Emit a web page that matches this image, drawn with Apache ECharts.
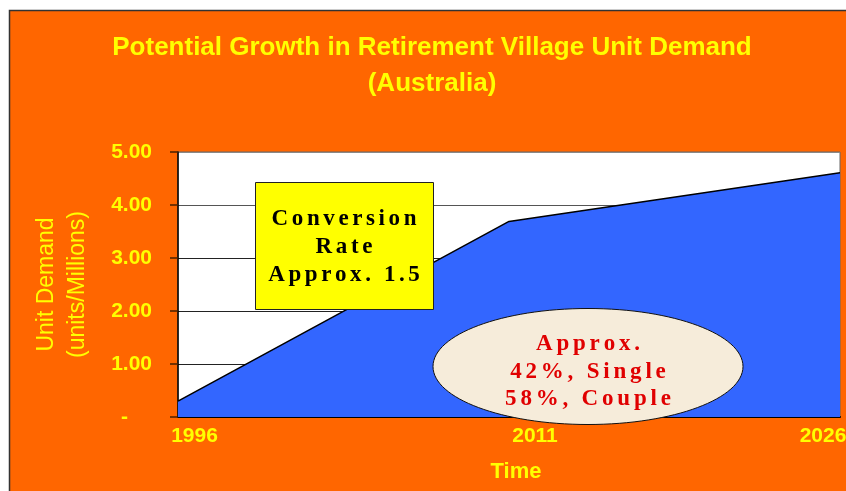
<!DOCTYPE html>
<html>
<head>
<meta charset="utf-8">
<script src="https://cdn.jsdelivr.net/npm/echarts@6/dist/echarts.min.js"></script>
<style>
html,body{margin:0;padding:0;background:#fff;}
#chart{width:846px;height:491px;}
</style>
</head>
<body>
<div id="chart"></div>
<script>
// ---- data ----
var years = [1996, 2011, 2026];
var demand = [0.30, 3.69, 4.61];
var yTicks = [0, 1, 2, 3, 4, 5];
var titleLines = ['Potential Growth in Retirement Village Unit Demand', '(Australia)'];
var yAxisTitle = ['Unit Demand', '(units/Millions)'];
var xAxisTitle = 'Time';
var boxLines = ['Conversion', 'Rate', 'Approx. 1.5'];
var ovalLines = ['Approx.', '42%, Single', '58%, Couple'];

var YELLOW = '#FFFF00';
var ORANGE = '#FF6600';
var BLUE = '#3366FF';

function spaced(s, key) {
  return s.split('').map(function (c) { return '{' + key + '|' + c + '}'; }).join('');
}

var chart = echarts.init(document.getElementById('chart'), null, {renderer: 'canvas'});

var labelRich = {};
var labelPads = [[0, 0, 0, 33], [0, 0, 0, 52], [0, 34, 0, 0]];
years.forEach(function (y, i) {
  labelRich['y' + i] = {color: YELLOW, fontSize: 21, fontWeight: 'bold', fontFamily: 'Liberation Sans, Arial, sans-serif', padding: labelPads[i]};
});

var option = {
  backgroundColor: '#fff',
  animation: false,
  title: {
    text: titleLines.join('\n'),
    left: 427,
    textAlign: 'center',
    top: 25,
    textStyle: {color: YELLOW, fontSize: 26, fontWeight: 'bold', fontFamily: 'Liberation Sans, Arial, sans-serif', lineHeight: 36}
  },
  grid: {
    left: 178, right: 6, top: 152, height: 265,
    outerBoundsMode: 'none', containLabel: false,
    show: true, backgroundColor: '#fff', borderColor: '#666', borderWidth: 1
  },
  xAxis: {
    type: 'value', min: years[0], max: years[years.length - 1], interval: 15,
    name: xAxisTitle, nameLocation: 'middle', nameGap: 44,
    nameTextStyle: {color: YELLOW, fontSize: 22, fontWeight: 'bold', fontFamily: 'Liberation Sans, Arial, sans-serif', padding: [0, 0, 0, 14]},
    axisLine: {show: true, onZero: false, lineStyle: {color: '#000', width: 2}},
    axisTick: {show: false},
    splitLine: {show: false},
    axisLabel: {
      margin: 9,
      formatter: function (v) { var i = years.indexOf(v); return '{y' + i + '|' + v + '}'; },
      rich: labelRich
    }
  },
  yAxis: {
    type: 'value', min: 0, max: 5, interval: 1,
    name: yAxisTitle.join('\n'), nameLocation: 'middle', nameGap: 85,
    nameTextStyle: {color: YELLOW, fontSize: 23, fontWeight: 'normal', fontFamily: 'Liberation Sans, Arial, sans-serif', lineHeight: 31, align: 'center'},
    axisLine: {show: true, lineStyle: {color: '#000', width: 1.5}},
    axisTick: {show: true, length: 8, lineStyle: {color: '#4a2000', width: 1.5}},
    splitLine: {show: true, lineStyle: {color: ['#222', '#222', '#222', '#222', '#555', '#888'], width: 1}},
    axisLabel: {
      margin: 26,
      color: YELLOW, fontSize: 21, fontWeight: 'bold', fontFamily: 'Liberation Sans, Arial, sans-serif',
      formatter: function (v) { return v === 0 ? '{z|-}' : v.toFixed(2); },
      rich: {z: {color: YELLOW, fontSize: 21, fontWeight: 'bold', fontFamily: 'Liberation Sans, Arial, sans-serif', padding: [0, 24, 0, 0]}}
    }
  },
  series: [{
    type: 'line',
    data: years.map(function (y, i) { return [y, demand[i]]; }),
    symbol: 'none',
    lineStyle: {color: '#000', width: 1.5},
    areaStyle: {color: BLUE, opacity: 1},
    z: 3
  }],
  graphic: [
    {type: 'rect', z: -10, shape: {x: 9.5, y: 10.5, width: 850, height: 490}, style: {fill: ORANGE, stroke: '#333', lineWidth: 1.5}},
    {type: 'rect', z: 50, shape: {x: 255.5, y: 182.5, width: 178, height: 127}, style: {fill: YELLOW, stroke: '#222', lineWidth: 1}},
    {type: 'text', z: 51, x: 344, y: 247,
      style: {
        text: boxLines.map(function (l) { return spaced(l, 'b'); }).join('\n'),
        align: 'center', verticalAlign: 'middle',
        rich: {b: {fontFamily: 'Liberation Serif, Times New Roman, serif', fontWeight: 'bold', fontSize: 23, fill: '#000', lineHeight: 28, padding: [0, 1.8, 0, 1.8], textShadowColor: 'rgba(0,0,0,0.35)', textShadowOffsetX: 1, textShadowOffsetY: 1, textShadowBlur: 0}}
      }
    },
    {type: 'ellipse', z: 50, shape: {cx: 588, cy: 366.5, rx: 155, ry: 58}, style: {fill: '#F6ECDA', stroke: '#111', lineWidth: 1}},
    {type: 'text', z: 51, x: 588, y: 372,
      style: {
        text: ovalLines.map(function (l) { return spaced(l, 'r'); }).join('\n'),
        align: 'center', verticalAlign: 'middle',
        rich: {r: {fontFamily: 'Liberation Serif, Times New Roman, serif', fontWeight: 'bold', fontSize: 23, fill: '#E00000', lineHeight: 27.5, padding: [0, 1.9, 0, 1.9], textShadowColor: 'rgba(60,0,0,0.6)', textShadowOffsetX: 1, textShadowOffsetY: 1, textShadowBlur: 0}}
      }
    }
  ]
};
chart.setOption(option);
</script>
</body>
</html>
